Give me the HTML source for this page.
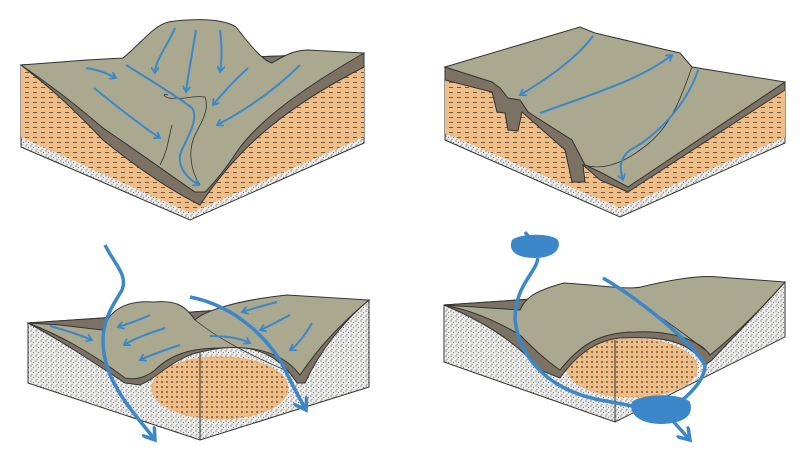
<!DOCTYPE html>
<html><head><meta charset="utf-8"><style>html,body{margin:0;padding:0;background:#fff}svg{display:block}</style></head><body>
<svg width="800" height="461" viewBox="0 0 800 461" xmlns="http://www.w3.org/2000/svg">
<defs>
<pattern id="or" width="8" height="5" patternUnits="userSpaceOnUse"><rect width="8" height="5" fill="#f0bd86"/><rect x="1" y="2" width="4" height="1" fill="#6e5c48"/></pattern>
<pattern id="ov" width="5" height="5" patternUnits="userSpaceOnUse"><rect width="5" height="5" fill="#f0bd86"/><circle cx="2" cy="2" r="1" fill="#6e5c48"/></pattern>
<pattern id="st" width="5" height="5" patternUnits="userSpaceOnUse"><rect width="5" height="5" fill="#ececea"/><circle cx="1" cy="1" r="0.6" fill="#555"/><circle cx="3.5" cy="2.5" r="0.6" fill="#777"/><circle cx="2" cy="4.2" r="0.5" fill="#444"/></pattern>
<marker id="ah" markerWidth="8" markerHeight="8" refX="6" refY="4" orient="auto" markerUnits="userSpaceOnUse"><path d="M0,0 L6,4 L0,8" fill="none" stroke="#3b87c9" stroke-width="1.8"/></marker>
<marker id="ah2" markerWidth="16" markerHeight="16" refX="12" refY="8" orient="auto" markerUnits="userSpaceOnUse"><path d="M0,0 L12,8 L0,16" fill="none" stroke="#3b87c9" stroke-width="3.5"/></marker>
</defs>
<g stroke="#333" stroke-width="1">
<!-- TOP LEFT -->
<path d="M21,65 L21,147 L190,220 L364,143 L364,53 Z" fill="url(#st)"/>
<path d="M21,65 L21,137 L190,213 L364,137 L364,53 Z" fill="url(#or)" stroke="none"/>
<path d="M21,65 C40,80 60,95 103,140 C140,170 170,190 200,205 C230,160 270,115 364,67 L364,53 Z" fill="#7b7263"/>
<path d="M21,65 L87,60 L123,58 C145,40 155,22 175,21 C205,18 225,20 236,27 C250,45 262,60 272,63 C285,55 295,50 308,50 L364,53 C300,90 260,120 238,150 C225,170 212,185 205,192 L195,192 C170,175 150,160 103,128 C70,100 50,85 21,65 Z" fill="#aaa98f"/>
<path d="M160,165 C168,150 168,140 172,125 M168,95 C160,92 165,100 175,98 C185,100 190,95 205,97 C210,110 200,125 195,135 C188,150 190,170 200,185" fill="none" stroke-width="0.8"/>
<g fill="none" stroke="#3b87c9" stroke-width="2" marker-end="url(#ah)">
<path d="M175,28 C168,45 155,60 155,73"/><path d="M196,30 C192,55 188,75 186,92"/><path d="M220,30 C222,45 222,60 220,72"/>
<path d="M86,68 C100,70 108,74 116,78"/><path d="M94,88 C115,105 140,125 160,138"/>
<path d="M126,65 C150,80 175,95 192,108 C200,120 185,140 180,155 C178,170 190,180 199,185"/>
<path d="M248,68 C235,80 225,90 213,105"/><path d="M300,65 C280,85 255,105 217,125"/>
</g>
<!-- TOP RIGHT -->
<path d="M445,67 L445,140 L620,217 L785,143 L785,82 Z" fill="url(#st)"/>
<path d="M445,67 L445,133 L620,208 L785,137 L785,82 Z" fill="url(#or)" stroke="none"/>
<path d="M445,67 L445,80 L492,92 L497,112 L505,113 L508,130 L518,131 L522,112 L565,150 L572,182 L585,182 L583,165 L600,180 L628,192 L785,90 L785,82 Z" fill="#7b7263"/>
<path d="M445,67 L580,27 L595,33 L667,50 L680,53 L692,67 L785,82 L628,187 L600,172 L585,165 L572,140 L528,112 L520,100 L508,98 L500,88 L492,82 Z" fill="#aaa98f"/>
<path d="M692,67 C680,100 670,130 640,150 C620,165 600,170 585,165" fill="none" stroke-width="0.8"/>
<g fill="none" stroke="#3b87c9" stroke-width="2" marker-end="url(#ah)">
<path d="M593,36 C575,60 545,80 520,95"/><path d="M540,113 C590,95 640,80 672,55"/><path d="M698,70 C685,110 650,140 630,150 C618,160 620,170 623,180"/>
</g>
<!-- BOTTOM LEFT -->
<path d="M28,323 L28,383 L200,440 L369,387 L369,300 Z" fill="url(#st)"/>
<ellipse cx="220" cy="388" rx="68" ry="31" fill="url(#ov)" stroke="#f0b070" stroke-width="1"/>
<line x1="200" y1="352" x2="200" y2="440"/>
<path d="M28,323 C60,340 90,360 125,383 L140,385 L150,380 C170,365 185,355 200,352 C230,345 270,340 297,383 L305,383 C320,350 345,320 369,300 Z" fill="#7b7263"/>
<path d="M28,323 L60,325 L102,330 C110,310 125,300 154,302 C175,300 185,305 195,320 C205,310 240,300 287,295 L369,300 C345,320 320,345 300,375 C285,355 260,345 220,348 C190,348 170,355 155,370 C145,378 135,380 125,378 C95,355 60,335 28,323 Z" fill="#aaa98f"/>
<path d="M195,320 C220,340 250,355 285,370" fill="none" stroke-width="0.8"/>
<g fill="none" stroke="#3b87c9" stroke-width="2" marker-end="url(#ah)">
<path d="M50,326 C65,330 80,335 92,340"/><path d="M150,315 C140,320 130,323 118,327"/><path d="M165,328 C150,333 135,338 124,345"/><path d="M180,345 C165,350 150,355 140,360"/>
<path d="M210,336 C225,336 240,338 250,343"/><path d="M277,302 C265,305 255,308 242,312"/><path d="M290,315 C280,320 270,326 260,330"/><path d="M312,323 C305,335 298,345 290,350"/>
</g>
<g fill="none" stroke="#3b87c9" stroke-width="3.5" marker-end="url(#ah2)">
<path d="M105,245 C115,265 128,275 122,290 C110,310 95,330 108,370 C120,400 140,420 155,440"/>
<path d="M190,297 C230,305 260,330 280,360 C295,390 300,400 306,410"/>
</g>
<!-- BOTTOM RIGHT -->
<path d="M444,305 L444,362 L615,422 L785,337 L785,282 Z" fill="url(#st)"/>
<ellipse cx="632" cy="368" rx="65" ry="29" fill="url(#ov)" stroke="#f0b070" stroke-width="1"/>
<line x1="615" y1="340" x2="615" y2="422"/>
<path d="M444,305 C480,320 515,340 540,370 L560,378 C580,350 600,340 620,338 C660,336 690,340 705,365 L712,360 C740,330 765,305 785,282 Z" fill="#7b7263"/>
<path d="M444,305 L520,310 C525,300 530,292 564,283 C600,285 625,290 641,287 C670,280 700,275 718,277 L785,282 C760,310 735,335 710,355 C700,340 670,330 635,332 C600,332 580,345 560,370 C545,360 530,345 520,335 C495,320 470,310 444,305 Z" fill="#aaa98f"/>
<path d="M620,290 C650,310 680,330 705,350" fill="none" stroke-width="0.8"/>
<g fill="none" stroke="#3b87c9" stroke-width="3.5">
<path d="M525,232 C530,240 540,245 536,250 M538,258 C535,275 515,285 515,320 C520,360 550,390 600,400 C630,405 650,410 665,412"/>
<path d="M603,278 C640,300 690,340 705,365 C705,380 690,395 670,410 M672,420 L690,440" marker-end="url(#ah2)"/>
</g>
<path d="M512,240 C518,234 550,232 558,240 C562,250 552,258 535,258 C515,258 508,250 512,240 Z" fill="#3b87c9" stroke="none"/>
<path d="M632,402 C640,394 680,392 690,402 C694,415 685,423 662,424 C640,424 628,414 632,402 Z" fill="#3b87c9" stroke="none"/>
</g>
</svg>
</body></html>
